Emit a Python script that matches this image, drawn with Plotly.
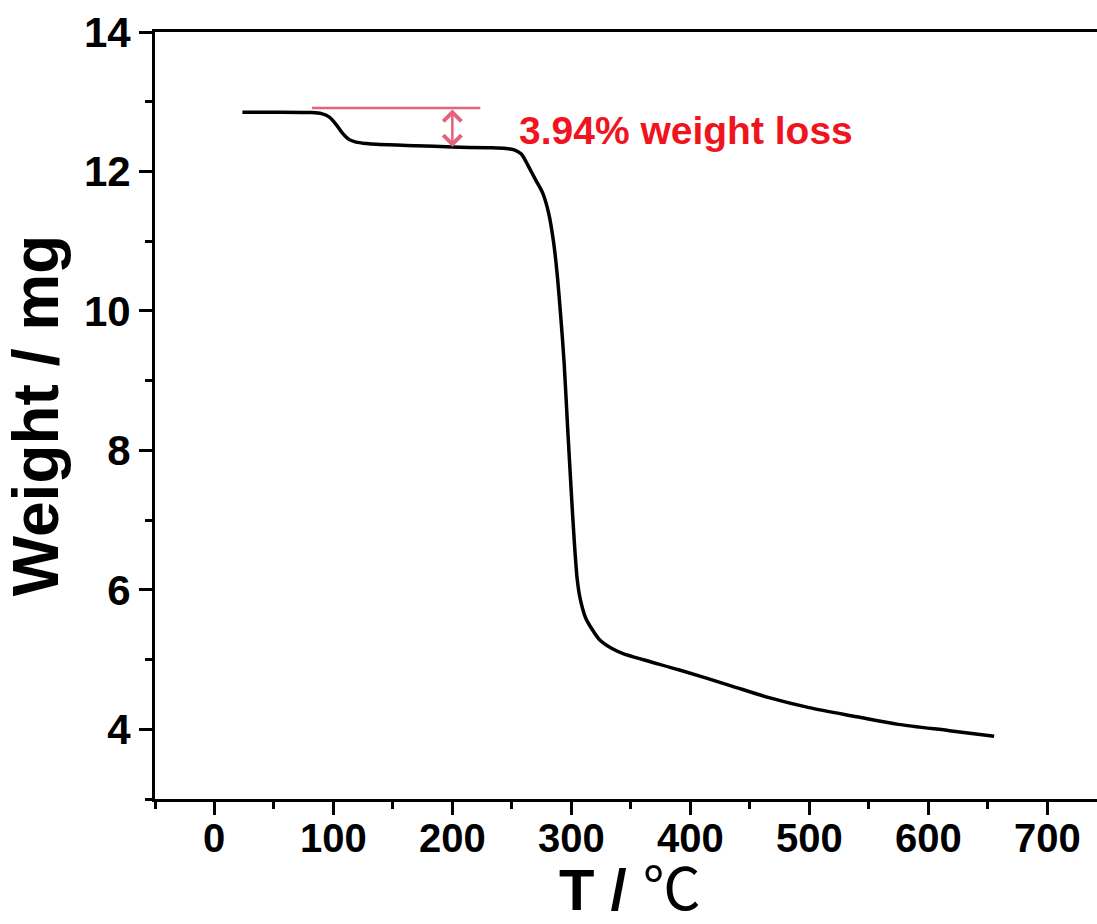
import plotly.graph_objects as go

temperature_c = [23.5, 50, 80, 90, 96.6, 102, 107.6, 113, 119, 128, 136, 170, 200, 230, 245, 252,
                 258, 261, 265, 270, 276, 281, 285, 288, 291, 294, 297, 300, 302.5, 305, 307.5,
                 312, 318, 324, 335, 343, 360, 391, 433, 467, 500, 540, 575, 618, 655.5]
weight_mg = [12.85, 12.85, 12.845, 12.83, 12.78, 12.68, 12.55, 12.46, 12.42, 12.40, 12.39, 12.37,
             12.35, 12.34, 12.33, 12.31, 12.25, 12.17, 12.04, 11.88, 11.69, 11.40, 11.00, 10.55,
             9.95, 9.25, 8.30, 7.40, 6.70, 6.15, 5.87, 5.60, 5.42, 5.28, 5.15, 5.09, 5.00, 4.85,
             4.63, 4.45, 4.31, 4.18, 4.07, 3.98, 3.90]

# annotation: initial plateau reference line and loss arrow
plateau_line_x = [82, 223.5]
plateau_level = 12.91
arrow_x = 200
arrow_bottom = 12.35
loss_label = "3.94% weight loss"

x_tickvals = [0, 100, 200, 300, 400, 500, 600, 700]
x_ticktext = [str(v) for v in x_tickvals]
y_tickvals = [4, 6, 8, 10, 12, 14]
x_title = "<b>T / </b>℃"
y_title = "<b>Weight / mg</b>"

FONT = "Arial, Liberation Sans, Noto Sans CJK SC, sans-serif"
PINK = "#E2637A"

fig = go.Figure()
fig.add_trace(go.Scatter(x=temperature_c, y=weight_mg, mode="lines",
                         line=dict(color="black", width=3.5, shape="spline", smoothing=0.8),
                         showlegend=False, hoverinfo="skip"))

fig.add_shape(type="line", x0=plateau_line_x[0], x1=plateau_line_x[1],
              y0=plateau_level, y1=plateau_level, xref="x", yref="y",
              line=dict(color=PINK, width=2.5))

fig.add_annotation(x=arrow_x, y=arrow_bottom, ax=arrow_x, ay=plateau_level,
                   xref="x", yref="y", axref="x", ayref="y", text="",
                   showarrow=True, arrowside="end+start", arrowhead=4, startarrowhead=4,
                   arrowsize=1.4, startarrowsize=1.4, arrowwidth=2.5, arrowcolor=PINK,
                   standoff=0, startstandoff=0)

fig.add_annotation(x=254, y=12.59, xref="x", yref="y", text="<b>" + loss_label + "</b>",
                   showarrow=False, xanchor="left", yanchor="middle",
                   font=dict(family=FONT, size=39, color="#F0141E"))

# x tick labels placed at the axis' own tick positions, a little closer to the axis
for v, t in zip(x_tickvals, x_ticktext):
    fig.add_annotation(x=v, y=0, xref="x", yref="paper", text="<b>" + t + "</b>",
                       showarrow=False, xanchor="center", yanchor="middle", yshift=-39,
                       font=dict(family=FONT, size=40, color="black"))

# x axis title, kept inside the page
fig.add_annotation(x=0.5, y=0, xref="paper", yref="paper", text=x_title, showarrow=False,
                   xanchor="center", yanchor="bottom", xshift=4, yshift=-124, borderpad=0,
                   font=dict(family=FONT, size=58, color="black"))

fig.update_layout(
    width=1097, height=924,
    margin=dict(l=155, r=0, t=32, b=125),
    paper_bgcolor="white", plot_bgcolor="white",
    font=dict(family=FONT, color="black"),
    xaxis=dict(
        range=[-50, 742], tickvals=x_tickvals, showticklabels=False,
        showline=True, linecolor="black", linewidth=3, mirror=True, automargin=False,
        ticks="outside", ticklen=13, tickwidth=3, tickcolor="black",
        minor=dict(dtick=50, tick0=0, ticks="outside", ticklen=7, tickwidth=3, tickcolor="black"),
        showgrid=False, zeroline=False,
    ),
    yaxis=dict(
        range=[3, 14], tickvals=y_tickvals, ticktext=[str(v) for v in y_tickvals],
        showline=True, linecolor="black", linewidth=3, mirror=False, automargin=False,
        ticks="outside", ticklen=13, tickwidth=3, tickcolor="black",
        minor=dict(dtick=1, tick0=0, ticks="outside", ticklen=7, tickwidth=3, tickcolor="black"),
        showgrid=False, zeroline=False,
        tickfont=dict(family=FONT, size=42, weight="bold"),
        title=dict(text=y_title, font=dict(family=FONT, size=64), standoff=8),
    ),
)

fig.write_html("out.html")
